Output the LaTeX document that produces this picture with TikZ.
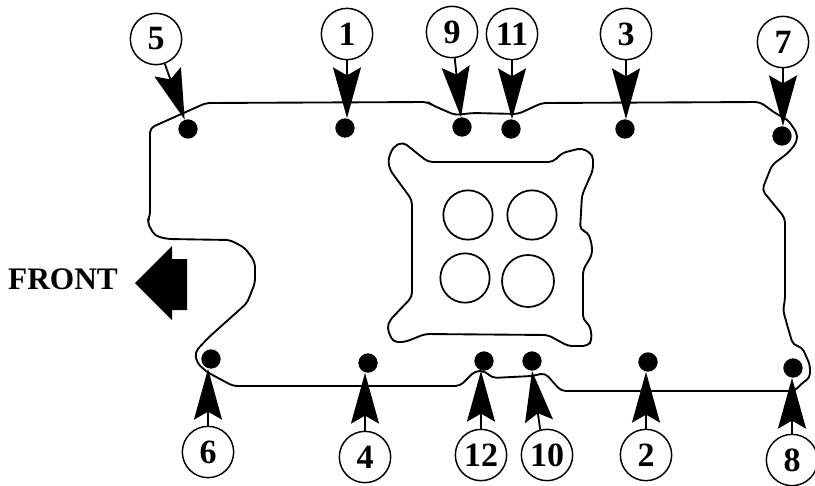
\documentclass[tikz,border=0pt]{standalone}
\usepackage{fontspec}
\setmainfont{Liberation Serif}
\usetikzlibrary{arrows.meta}
\tikzset{
  numcirc/.style={circle,draw=black,line width=1.1pt,minimum size=38.5pt,inner sep=0pt,font=\fontsize{25.5}{25.5}\selectfont\bfseries},
  bolt/.style={circle,fill=black,minimum size=14.5pt,inner sep=0pt},
  pointer/.style={line width=1.4pt,-{Stealth[length=38pt,width=21pt,inset=6pt]}},
  outline/.style={line width=1.4pt,rounded corners=3.5pt,line join=round},
  port/.style={circle,draw=black,line width=1.3pt,inner sep=0pt},
}
\begin{document}
\begin{tikzpicture}[x=0.75pt,y=-0.75pt]
\useasboundingbox (0,0) rectangle (815,486);
\fill[white] (0,0) rectangle (815,486);
% outer gasket
\draw[outline] (150,170) -- (150,128) -- (206,103) -- (428,102) -- (432,105) -- (455,115) -- (473,113) -- (518,114) -- (542,103)
 -- (760,102) -- (775,113) -- (788,120) -- (797,133) -- (797,142) -- (788,153) -- (772,165) -- (762,190)
 -- (785,218) -- (785,300) -- (783,310) -- (788,328) -- (793,345) -- (802,347) -- (810,365)
 -- (810,378) -- (802,383) -- (795,391) -- (561,391) -- (545,373) -- (532,376) -- (492,378) -- (485,371)
 -- (475,371) -- (460,386) -- (233,386) -- (207,372) -- (197,363) -- (195,352) -- (208,338) -- (247,303)
 -- (255,283) -- (255,262) -- (245,248) -- (230,240) -- (168,239) -- (155,236) -- (147,222) -- (150,216) -- cycle;
% carburettor flange
\draw[outline] (412,250) -- (412,200) -- (390,170) -- (388,160) -- (393,147) -- (403,142) -- (428,162) -- (553,162)
 -- (562,153) -- (582,148) -- (593,155) -- (593,170) -- (582,195) -- (580,230) -- (588,232) -- (592,245) -- (592,255)
 -- (583,270) -- (583,320) -- (590,325) -- (592,340) -- (588,346) -- (568,346) -- (548,335) -- (425,334) -- (405,342)
 -- (393,342) -- (387,328) -- (390,320) -- (412,297) -- cycle;
\node[port,minimum size=37pt] (tl) at (468,215) {};
\node[port,minimum size=37pt] (tr) at (532,215) {};
\node[port,minimum size=37pt] (bl) at (465,278) {};
\node[port,minimum size=39pt] (br) at (528,281) {};
% bolts
\node[bolt] (d1) at (345,128) {};
\node[bolt] (d2) at (648,362) {};
\node[bolt] (d3) at (625,129) {};
\node[bolt] (d4) at (368,363) {};
\node[bolt] (d5) at (188,129) {};
\node[bolt] (d6) at (211,359) {};
\node[bolt] (d7) at (782,136) {};
\node[bolt] (d8) at (793,368) {};
\node[bolt] (d9) at (462,127) {};
\node[bolt] (d10) at (532,361) {};
\node[bolt] (d11) at (511,129) {};
\node[bolt] (d12) at (484,361) {};
% numbers
\node[numcirc] (n1) at (347,34) {1};
\node[numcirc] (n2) at (646,455) {2};
\node[numcirc] (n3) at (626,34) {3};
\node[numcirc] (n4) at (365,457) {4};
\node[numcirc] (n5) at (156,39) {5};
\node[numcirc] (n6) at (208,452) {6};
\node[numcirc] (n7) at (783,42) {7};
\node[numcirc] (n8) at (792,460) {8};
\node[numcirc] (n9) at (452,32) {9};
\node[numcirc] (n10) at (547,455) {10};
\node[numcirc] (n11) at (512,34) {11};
\node[numcirc] (n12) at (481,455) {12};
% connectors
\foreach \k in {1,3,7,11} {\draw[pointer] (n\k.south) -- (n\k.south |- d\k.north);}
\foreach \k in {2,4,6,8,12} {\draw[pointer] (n\k.north) -- (n\k.north |- d\k.south);}
\draw[pointer] (n5) -- (d5);
\draw[pointer] (n9) -- (d9);
\draw[pointer] (n10.105) -- (d10.south);
% front
\node[font=\fontsize{23.5}{23.5}\selectfont\bfseries,inner sep=0pt] (front) at (63,279) {FRONT};
\fill[black] (135,283) -- (172,246) -- (172,259) -- (187,259) -- (187,310) -- (172,310) -- (172,320) -- cycle;
\end{tikzpicture}
\end{document}
